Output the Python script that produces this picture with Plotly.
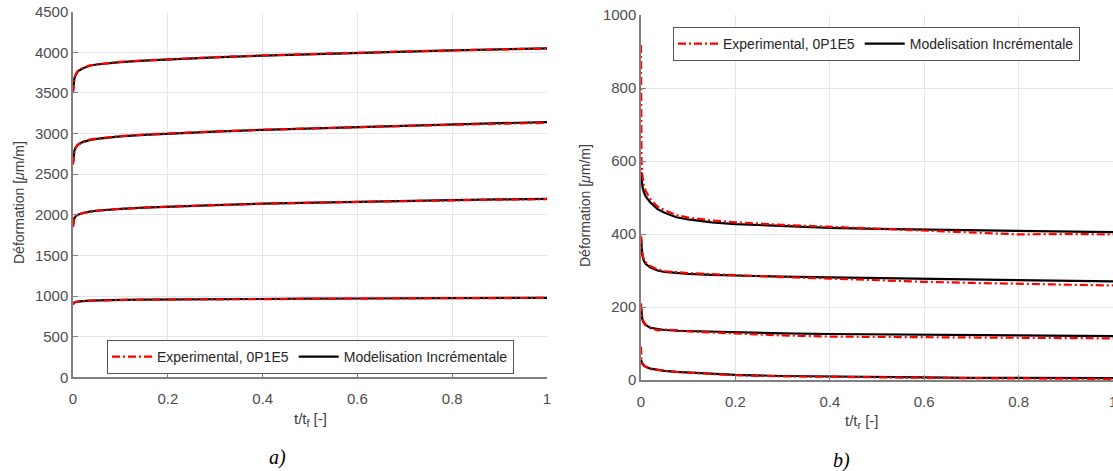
import plotly.graph_objects as go

# ---------------- data ----------------
t = [0, 0.001, 0.003, 0.006, 0.01, 0.02, 0.035, 0.05, 0.075, 0.1,
     0.15, 0.2, 0.3, 0.4, 0.5, 0.6, 0.7, 0.8, 0.9, 1.0]

# a) creep (t/t_f)
a_exp_1 = [3500, 3610, 3690, 3730, 3770, 3805, 3838, 3853, 3870, 3882,
           3900, 3915, 3940, 3962, 3980, 3996, 4010, 4023, 4036, 4047]
a_mod_1 = [3520, 3620, 3680, 3725, 3765, 3800, 3835, 3850, 3868, 3880,
           3898, 3914, 3938, 3960, 3978, 3995, 4010, 4024, 4037, 4048]
a_exp_2 = [2620, 2720, 2785, 2830, 2862, 2898, 2925, 2940, 2957, 2968,
           2988, 3003, 3027, 3047, 3065, 3080, 3094, 3108, 3120, 3132]
a_mod_2 = [2640, 2730, 2790, 2830, 2860, 2895, 2920, 2935, 2952, 2965,
           2985, 3000, 3025, 3045, 3063, 3080, 3097, 3115, 3128, 3140]
a_exp_3 = [1850, 1920, 1958, 1983, 2000, 2022, 2041, 2052, 2064, 2074,
           2089, 2100, 2120, 2136, 2149, 2160, 2170, 2179, 2187, 2193]
a_mod_3 = [1870, 1925, 1960, 1985, 2000, 2020, 2040, 2050, 2062, 2072,
           2088, 2100, 2120, 2137, 2150, 2162, 2172, 2181, 2189, 2196]
a_exp_4 = [895, 912, 920, 927, 931, 937, 942, 946, 949, 951,
           955, 957, 961, 965, 967, 970, 972, 974, 975, 977]
a_mod_4 = [905, 915, 922, 928, 932, 938, 943, 946, 949, 952,
           955, 958, 962, 965, 968, 970, 972, 974, 976, 978]

# b) relaxation (t/t_r)
b_exp_1 = [918, 600, 560, 535, 518, 495, 475, 465, 452, 445,
           437, 432, 425, 420, 415, 410, 406, 399, 400, 399]
b_mod_1 = [570, 545, 530, 515, 503, 486, 468, 458, 446, 440,
           432, 427, 421, 417, 414, 412, 410, 408, 406, 405]
b_exp_2 = [395, 365, 345, 330, 322, 312, 303, 298, 295, 293,
           290, 287, 282, 278, 273, 269, 266, 263, 261, 259]
b_mod_2 = [390, 360, 340, 327, 318, 308, 300, 296, 293, 291,
           288, 286, 283, 281, 279, 277, 275, 273, 271, 270]
b_exp_3 = [210, 185, 168, 158, 152, 142, 136, 138, 137, 133,
           130, 127, 122, 119, 118, 117, 116, 115, 114, 114]
b_mod_3 = [200, 180, 165, 156, 150, 143, 139, 137, 135, 134,
           132, 130, 128, 126, 125, 124, 123, 122, 121, 120]
b_exp_4 = [92, 55, 45, 40, 36, 30, 27, 25, 22, 20,
           16, 13, 10, 8, 7, 6, 5, 4, 4, 3]
b_mod_4 = [55, 50, 44, 39, 36, 31, 27, 25, 22, 20,
           16, 14, 11, 9, 8, 7, 6, 5, 5, 5]

exp_name = "Experimental, 0P1E5"
mod_name = "Modelisation Incrémentale"
x_ticks = [0, 0.2, 0.4, 0.6, 0.8, 1]
x_tick_text = ["0", "0.2", "0.4", "0.6", "0.8", "1"]

# ---------------- figure ----------------
W, H = 1113, 471
fig = go.Figure()

RED = "#ff0000"
BLACK = "#000000"
DASH = "8px,3px,2px,3px"


def add_set(exps, mods, xa, ya, leg):
    for i, m in enumerate(mods):
        fig.add_trace(go.Scatter(x=t, y=m, mode="lines", name=mod_name,
                                 line=dict(color=BLACK, width=2.2),
                                 xaxis=xa, yaxis=ya, legend=leg,
                                 legendgroup=leg + "m", legendrank=2,
                                 showlegend=(i == 0)))
    for i, e in enumerate(exps):
        fig.add_trace(go.Scatter(x=t, y=e, mode="lines", name=exp_name,
                                 line=dict(color=RED, width=2.2, dash=DASH),
                                 xaxis=xa, yaxis=ya, legend=leg,
                                 legendgroup=leg + "e", legendrank=1,
                                 showlegend=(i == 0)))


add_set([a_exp_1, a_exp_2, a_exp_3, a_exp_4],
        [a_mod_1, a_mod_2, a_mod_3, a_mod_4], "x", "y", "legend")
add_set([b_exp_1, b_exp_2, b_exp_3, b_exp_4],
        [b_mod_1, b_mod_2, b_mod_3, b_mod_4], "x2", "y2", "legend2")

FONT = "Liberation Sans, Arial, sans-serif"
TICKCOL = "#4d4d4d"
AXCOL = "#808080"
GRID = "#e6e6e6"

common_x = dict(range=[0, 1], tickmode="array", tickvals=x_ticks, ticktext=x_tick_text,
                ticks="inside", ticklen=5, tickcolor=AXCOL, showline=True,
                linecolor=AXCOL, linewidth=1.5, showgrid=True, gridcolor=GRID,
                gridwidth=1, zeroline=False, tickfont=dict(size=15, color=TICKCOL),
                automargin=False, ticklabelstandoff=7, ticklabeloverflow="allow")
common_y = dict(ticks="inside", ticklen=5, tickcolor=AXCOL, showline=True,
                linecolor=AXCOL, linewidth=1.5, showgrid=True, gridcolor=GRID,
                gridwidth=1, zeroline=False, tickfont=dict(size=15, color=TICKCOL),
                automargin=False)


def px(x):
    return x / W


def py(y):
    return 1 - y / H


leg_common = dict(orientation="h", xanchor="left", yanchor="top",
                  bgcolor="white", bordercolor="#555555", borderwidth=1,
                  font=dict(size=14, color="#262626", family=FONT),
                  itemwidth=40, tracegroupgap=0)

fig.update_layout(
    width=W, height=H,
    margin=dict(l=0, r=0, t=0, b=0),
    paper_bgcolor="white", plot_bgcolor="white",
    font=dict(family=FONT, color="#262626"),
    xaxis=dict(domain=[px(73), px(547)], anchor="y", **common_x),
    yaxis=dict(domain=[py(377.3), py(11.7)], anchor="x", range=[0, 4500],
               dtick=500, **common_y),
    xaxis2=dict(domain=[px(641), 1.0], anchor="y2", **common_x),
    yaxis2=dict(domain=[py(380), py(15)], anchor="x2", range=[0, 1000],
                dtick=200, **common_y),
    legend=dict(x=px(107), y=py(340), **leg_common),
    legend2=dict(x=px(673), y=py(27), **leg_common),
    showlegend=True,
)

YT_FONT = dict(size=14, color="#404040", family=FONT)
XT_FONT = dict(size=15, color="#404040", family=FONT)
CAP_FONT = dict(size=20, color="#000000", family="Liberation Serif, Times New Roman, serif")
ann = []


def add_ann(text, x, y, font, angle=0):
    ann.append(dict(text=text, x=px(x), y=py(y), xref="paper", yref="paper",
                    xanchor="center", yanchor="middle", textangle=angle,
                    showarrow=False, font=font))


add_ann("Déformation [<i>μ</i>m/m]", 19, 203, YT_FONT, -90)
add_ann("Déformation [<i>μ</i>m/m]", 585, 205, YT_FONT, -90)
add_ann("t/t<sub>f</sub> [-]", 310, 419, XT_FONT)
add_ann("t/t<sub>r</sub> [-]", 862, 421, XT_FONT)
add_ann("<i>a)</i>", 277, 457, CAP_FONT)
add_ann("<i>b)</i>", 841, 460, CAP_FONT)
fig.update_layout(annotations=ann)

fig.write_html("out.html", config={"displayModeBar": False},
               post_script="document.body.style.margin='0';document.body.style.overflow='hidden';")
